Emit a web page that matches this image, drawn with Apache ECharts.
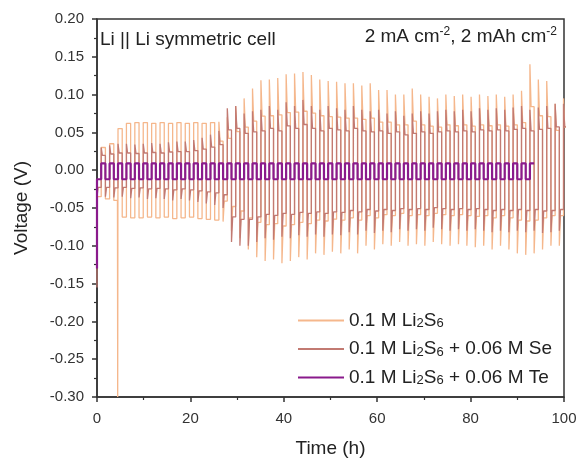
<!DOCTYPE html>
<html>
<head>
<meta charset="utf-8">
<script src="https://cdn.jsdelivr.net/npm/echarts@6/dist/echarts.min.js"></script>
<style>html,body{margin:0;padding:0;background:#fff;}#c{width:580px;height:458px;}</style>
</head>
<body>
<div id="c"></div>
<script>
// ---- data: one peak value per half-cycle, cycle i starts at i*cycleHours ----
var cycleHours = 1.8;
var xTicks = [0, 20, 40, 60, 80, 100];
var yTicks = [-0.30, -0.25, -0.20, -0.15, -0.10, -0.05, 0.00, 0.05, 0.10, 0.15, 0.20];

var li2s6Neg = [-0.035, -0.038, -0.040,
  -0.062, -0.063, -0.063, -0.062, -0.063, -0.062, -0.064, -0.063, -0.062, -0.064, -0.065, -0.066,
  -0.068, -0.080, -0.090, -0.105, -0.115, -0.120, -0.118, -0.123, -0.120, -0.115, -0.118, -0.110,
  -0.112, -0.108, -0.110, -0.105, -0.110, -0.100, -0.105, -0.098, -0.100, -0.095, -0.100, -0.098,
  -0.100, -0.095, -0.098, -0.100, -0.098, -0.100, -0.102, -0.100, -0.105, -0.100, -0.105, -0.110,
  -0.112, -0.110, -0.105, -0.100, -0.100];
var li2s6Pos = [0.030, 0.035, 0.055,
  0.062, 0.063, 0.063, 0.062, 0.063, 0.062, 0.063, 0.062, 0.063, 0.062, 0.063, 0.064,
  0.070, 0.085, 0.095, 0.108, 0.119, 0.120, 0.122, 0.127, 0.128, 0.130, 0.126, 0.120,
  0.118, 0.117, 0.115, 0.115, 0.112, 0.115, 0.106, 0.106, 0.100, 0.100, 0.108, 0.100,
  0.097, 0.095, 0.100, 0.098, 0.100, 0.097, 0.100, 0.098, 0.100, 0.097, 0.100, 0.105,
  0.140, 0.120, 0.118, 0.088, 0.095];
var li2s6Start = -0.030;
var li2s6Spikes = [[4.38, -0.30]];

var seNeg = [-0.035, -0.035, -0.036, -0.035, -0.037, -0.036, -0.038, -0.037, -0.038, -0.040, -0.038,
  -0.040, -0.042, -0.044, -0.046,
  -0.050, -0.095, -0.100, -0.100, -0.095, -0.090, -0.092, -0.088, -0.090, -0.086, -0.088, -0.085,
  -0.088, -0.085, -0.086, -0.082, -0.085, -0.080, -0.083, -0.080, -0.082, -0.078, -0.080, -0.078,
  -0.080, -0.076, -0.078, -0.080, -0.078, -0.080, -0.078, -0.080, -0.082, -0.080, -0.082, -0.080,
  -0.082, -0.080, -0.083, -0.082, -0.080];
var sePos = [0.030, 0.033, 0.035, 0.035, 0.034, 0.035, 0.036, 0.035, 0.037, 0.038, 0.038,
  0.040, 0.043, 0.047, 0.052,
  0.082, 0.085, 0.075, 0.078, 0.080, 0.085, 0.080, 0.090, 0.085, 0.093, 0.085, 0.080,
  0.085, 0.082, 0.080, 0.085, 0.080, 0.078, 0.080, 0.075, 0.078, 0.072, 0.075, 0.078,
  0.075, 0.078, 0.080, 0.078, 0.080, 0.078, 0.082, 0.080, 0.082, 0.080, 0.083, 0.085,
  0.080, 0.083, 0.085, 0.088, 0.088];
var seStart = -0.155;

var teNeg = [-0.012, -0.012, -0.012, -0.012, -0.012, -0.012, -0.012, -0.012, -0.012, -0.012, -0.012, -0.012, -0.012,
  -0.012, -0.012, -0.012, -0.012, -0.012, -0.012, -0.012, -0.012, -0.012, -0.012, -0.012, -0.012, -0.012,
  -0.012, -0.012, -0.012, -0.012, -0.012, -0.012, -0.012, -0.012, -0.012, -0.012, -0.012, -0.012, -0.012,
  -0.012, -0.012, -0.012, -0.012, -0.012, -0.012, -0.012, -0.012, -0.012, -0.012, -0.012, -0.012, -0.012];
var tePos = [0.009, 0.009, 0.009, 0.009, 0.009, 0.009, 0.009, 0.009, 0.009, 0.009, 0.009, 0.009, 0.009,
  0.009, 0.009, 0.009, 0.009, 0.009, 0.009, 0.009, 0.009, 0.009, 0.009, 0.009, 0.009, 0.009,
  0.009, 0.009, 0.009, 0.009, 0.009, 0.009, 0.009, 0.009, 0.009, 0.009, 0.009, 0.009, 0.009,
  0.009, 0.009, 0.009, 0.009, 0.009, 0.009, 0.009, 0.009, 0.009, 0.009, 0.009, 0.009, 0.009];
var teStart = -0.130;

var seriesNames = ['0.1 M Li2S6', '0.1 M Li2S6 + 0.06 M Se', '0.1 M Li2S6 + 0.06 M Te'];
var legendLabels = ['{n|0.1 M Li}{s|2}{n|S}{s|6}', '{n|0.1 M Li}{s|2}{n|S}{s|6}{n| + 0.06 M Se}', '{n|0.1 M Li}{s|2}{n|S}{s|6}{n| + 0.06 M Te}'];

// ---- build the galvanostatic cycling traces from the per-half-cycle values ----
function build(neg, pos, start, spikes, ratioFn) {
  var half = cycleHours / 2;
  var pts = [];
  if (start != null) pts.push([0, start]);
  for (var i = 0; i < neg.length; i++) {
    for (var h = 0; h < 2; h++) {
      var t0 = cycleHours * i + half * h;
      var p = h === 0 ? neg[i] : pos[i];
      var lvl = p * ratioFn(t0);
      pts.push([t0, p]);
      pts.push([t0 + 0.25, lvl]);
      (spikes || []).forEach(function (s) {
        if (s[0] >= t0 && s[0] < t0 + half) {
          pts.push([s[0], lvl]);
          pts.push([s[0] + 0.05, s[1]]);
          pts.push([s[0] + 0.1, lvl]);
        }
      });
      pts.push([t0 + half, lvl]);
    }
  }
  return pts;
}
var d1 = build(li2s6Neg, li2s6Pos, li2s6Start, li2s6Spikes, function (t) { return t < 26 ? 1 : 0.6; });
var d2 = build(seNeg, sePos, seStart, null, function (t) { return 0.65; });
var d3 = build(teNeg, tePos, teStart, null, function (t) { return 1; });

var chart = echarts.init(document.getElementById('c'), null, { renderer: 'canvas' });
var FONT = 'Liberation Sans, Arial, sans-serif';
var legendMap = {};
seriesNames.forEach(function (n, i) { legendMap[n] = legendLabels[i]; });

chart.setOption({
  animation: false,
  backgroundColor: '#fff',
  textStyle: { fontFamily: FONT },
  grid: { left: 97, right: 16, top: 19, bottom: 61, containLabel: false, outerBoundsMode: 'none',
    show: true, borderColor: '#333', borderWidth: 1.5, backgroundColor: 'transparent' },
  title: [
    { text: 'Li || Li symmetric cell', left: 95, top: 25, textStyle: { fontSize: 19, fontWeight: 'normal', color: '#222', fontFamily: FONT } },
    { text: '{n|2 mA cm}{p|-2}{n|, 2 mAh cm}{p|-2}', right: 18, top: 21,
      textStyle: { fontFamily: FONT, fontWeight: 'normal', rich: {
        n: { fontSize: 19, color: '#222', fontWeight: 'normal', fontFamily: FONT },
        p: { fontSize: 12, color: '#222', fontWeight: 'normal', padding: [0, 0, 9, 0], fontFamily: FONT } } } }
  ],
  legend: {
    orient: 'vertical', left: 293, top: 306, itemWidth: 46, itemHeight: 2, itemGap: 9.5, icon: 'rect',
    data: seriesNames,
    formatter: function (n) { return legendMap[n]; },
    textStyle: { fontFamily: FONT, rich: { n: { fontSize: 19, color: '#222', fontFamily: FONT }, s: { fontSize: 13, color: '#222', padding: [0, 0, -6, 0], fontFamily: FONT } } }
  },
  xAxis: {
    type: 'value', min: 0, max: 100, interval: 20,
    name: 'Time (h)', nameLocation: 'middle', nameGap: 42,
    nameTextStyle: { fontSize: 19, color: '#222', fontFamily: FONT },
    axisLine: { show: true, onZero: false, lineStyle: { color: '#333', width: 1.5 } },
    axisTick: { show: true, length: 5, lineStyle: { color: '#333', width: 1.5 } },
    minorTick: { show: true, splitNumber: 2, length: 3, lineStyle: { color: '#333', width: 1.2 } },
    splitLine: { show: false },
    axisLabel: { fontSize: 15, color: '#333', margin: 14, fontFamily: FONT,
      formatter: function (v) { return xTicks.indexOf(v) >= 0 ? String(v) : ''; } }
  },
  yAxis: {
    type: 'value', min: -0.30, max: 0.20, interval: 0.05,
    name: 'Voltage (V)', nameLocation: 'middle', nameGap: 66,
    nameTextStyle: { fontSize: 19, color: '#222', fontFamily: FONT },
    axisLine: { show: true, onZero: false, lineStyle: { color: '#333', width: 1.5 } },
    axisTick: { show: true, length: 5, lineStyle: { color: '#333', width: 1.5 } },
    minorTick: { show: true, splitNumber: 2, length: 3, lineStyle: { color: '#333', width: 1.2 } },
    splitLine: { show: false },
    axisLabel: { fontSize: 15, color: '#333', margin: 13, fontFamily: FONT,
      formatter: function (v) { var m = yTicks.filter(function (t) { return Math.abs(t - v) < 1e-6; }); return m.length ? m[0].toFixed(2) : ''; } }
  },
  series: [
    { name: seriesNames[0], type: 'line', data: d1, showSymbol: false, symbol: 'none', color: '#F5B78C', lineStyle: { color: '#F5B78C', width: 1.3 }, clip: true, z: 2 },
    { name: seriesNames[1], type: 'line', data: d2, showSymbol: false, symbol: 'none', color: '#C27A72', lineStyle: { color: '#C27A72', width: 1.3 }, clip: true, z: 3 },
    { name: seriesNames[2], type: 'line', data: d3, showSymbol: false, symbol: 'none', color: '#8A1A8C', lineStyle: { color: '#8A1A8C', width: 2.2 }, clip: true, z: 4 }
  ]
});
</script>
</body>
</html>
